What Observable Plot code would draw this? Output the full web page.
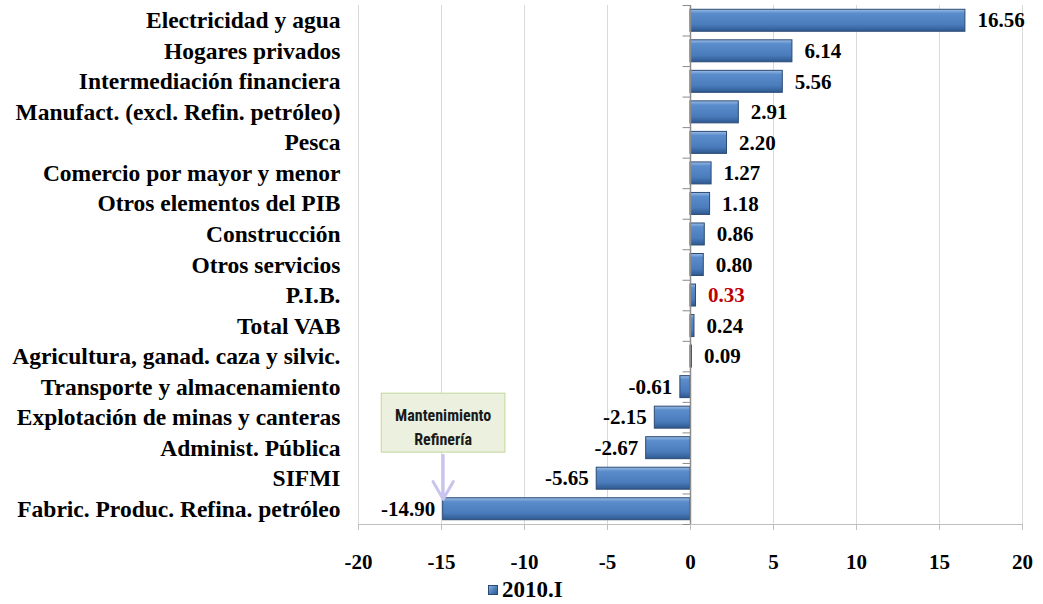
<!DOCTYPE html>
<html>
<head>
<meta charset="utf-8">
<script src="https://cdn.jsdelivr.net/npm/d3@7"></script>
<script src="https://cdn.jsdelivr.net/npm/@observablehq/plot@0.6"></script>
<style>
  body { margin: 0; background: #fff; }
  #legend { display: flex; align-items: center; height: 29px; padding-left: 488px;
    font-family: "Liberation Serif", serif; font-weight: bold; font-size: 23px; color: #000; }
  #legend .sw { width: 10px; height: 10px; margin-right: 4px;
    background: linear-gradient(135deg, #8fb1de 0%, #4f81bd 50%, #2f5a90 100%); border: 1px solid #2b4a73; box-sizing: border-box; }
</style>
</head>
<body>
<div id="chart"></div>
<div id="legend"><span class="sw"></span><span id="legendText"></span></div>
<script>
const categories = [
  "Electricidad y agua",
  "Hogares privados",
  "Intermediación financiera",
  "Manufact. (excl. Refin. petróleo)",
  "Pesca",
  "Comercio por mayor y menor",
  "Otros elementos del PIB",
  "Construcción",
  "Otros servicios",
  "P.I.B.",
  "Total VAB",
  "Agricultura, ganad. caza y silvic.",
  "Transporte y almacenamiento",
  "Explotación de minas y canteras",
  "Administ. Pública",
  "SIFMI",
  "Fabric. Produc. Refina. petróleo"
];
const values = [16.56, 6.14, 5.56, 2.91, 2.20, 1.27, 1.18, 0.86, 0.80, 0.33, 0.24, 0.09, -0.61, -2.15, -2.67, -5.65, -14.90];
const xTicks = [-20, -15, -10, -5, 0, 5, 10, 15, 20];
const seriesName = "2010.I";
const highlightCategory = "P.I.B.";
const annotationText = "Mantenimiento\nRefinería";
const annotationBoxCategory = "Explotación de minas y canteras";
const annotationFrom = "Administ. Pública";
const annotationTo = "Fabric. Produc. Refina. petróleo";
const annotationX = -14.90;
const annotationBoxX = [-18.6, -11.15];

const data = categories.map((c, i) => ({category: c, value: values[i]}));

const W = 1043, H = 575, mT = 5, mB = 51, mL = 358, mR = 21;
const step = (H - mT - mB) / categories.length;
const serif = "'Liberation Serif', 'Times New Roman', serif";

const svg = Plot.plot({
  width: W,
  height: H,
  marginTop: mT,
  marginBottom: mB,
  marginLeft: mL,
  marginRight: mR,
  style: {fontFamily: serif, fontWeight: "bold", fontSize: "19px", color: "#000", background: "#fff"},
  x: {domain: [-20, 20], label: null},
  y: {domain: categories, paddingInner: 0.28, paddingOuter: 0.14, round: false, label: null},
  marks: [
    Plot.gridX(xTicks, {stroke: "#d9d9d9", strokeOpacity: 1}),
    Plot.frame({anchor: "bottom", stroke: "#bfbfbf"}),
    Plot.axisX(xTicks, {tickSize: 6, stroke: "#bfbfbf", tickPadding: 24, tickFormat: d => String(d), fontSize: 21, fontWeight: "bold", fill: "#000", label: null}),
    Plot.axisY({tickSize: 0, tickPadding: 18, fontSize: 23.5, fontWeight: "bold", fill: "#000", label: null}),
    Plot.barX(data, {x: "value", y: "category", fill: "url(#barGrad)", stroke: "#2b4a73", strokeWidth: 1}),
    Plot.ruleX([0], {stroke: "#8c8c8c", strokeWidth: 1.5}),
    Plot.ruleY(categories, {y: d => d, x1: -0.45, x2: 0, dy: -step / 2, stroke: "#8c8c8c"}),
    Plot.ruleY(categories.slice(-1), {y: d => d, x1: -0.45, x2: 0, dy: step / 2, stroke: "#8c8c8c"}),
    Plot.text(data.filter(d => d.value >= 0), {x: "value", y: "category", text: d => d.value.toFixed(2), textAnchor: "start", dx: 12,
      fill: d => d.category === highlightCategory ? "#c00000" : "#000", fontSize: 21, fontWeight: "bold"}),
    Plot.text(data.filter(d => d.value < 0), {x: "value", y: "category", text: d => d.value.toFixed(2), textAnchor: "end", dx: -8,
      fill: "#000", fontSize: 21, fontWeight: "bold"}),
    Plot.rect([annotationBoxCategory], {y: d => d, x1: annotationBoxX[0], x2: annotationBoxX[1], insetTop: -13, insetBottom: -24,
      fill: "#ebf1de", stroke: "#c3d69b", strokeWidth: 1}),
    Plot.text([annotationBoxCategory], {y: d => d, x: annotationX, text: () => annotationText, dy: 8, lineHeight: 1.5,
      fontFamily: "'Liberation Sans Narrow', 'Arial Narrow', 'Roboto Condensed', sans-serif", fontSize: 16, fontWeight: "bold", fill: "#1a1a1a"}),
    Plot.arrow([0], {x1: annotationX, x2: annotationX, y1: () => annotationFrom, y2: () => annotationTo, insetStart: 7, insetEnd: 10,
      stroke: "#c9c4ee", strokeWidth: 3, headLength: 14, bend: 0})
  ]
});
svg.insertAdjacentHTML("afterbegin", `<defs><linearGradient id="barGrad" x1="0" y1="0" x2="0" y2="1">
  <stop offset="0" stop-color="#9dbde6"/><stop offset="0.18" stop-color="#5b8dcc"/>
  <stop offset="0.7" stop-color="#4a7bbb"/><stop offset="1" stop-color="#2e5990"/></linearGradient></defs>`);
document.getElementById("chart").appendChild(svg);
document.getElementById("legendText").textContent = seriesName;
</script>
</body>
</html>
